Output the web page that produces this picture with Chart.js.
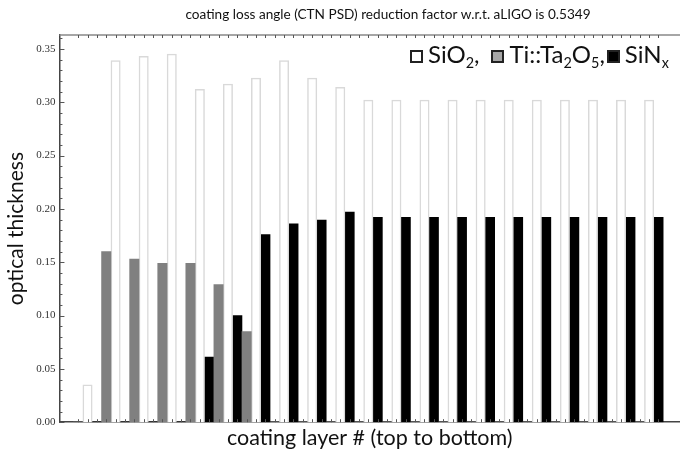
<!DOCTYPE html>
<html>
<head>
<meta charset="utf-8">
<script src="https://cdn.jsdelivr.net/npm/chart.js@4.4.0/dist/chart.umd.min.js"></script>
<style>
  body { margin: 0; background: #fff; }
  #contenedor { position: relative; width: 680px; height: 455px; }
  #leyenda { position: absolute; left: 410px; top: 40px; font: 24px Lato, sans-serif; color: #111; white-space: nowrap; line-height: 28px; }
  #leyenda .caja { display: inline-block; width: 9px; height: 9px; border: 2px solid #222; margin-right: 5px; vertical-align: 0px; }
  #leyenda .sep { margin-left: 12px; }
  #leyenda sub { font-size: 0.6em; vertical-align: -0.35em; line-height: 0; }
</style>
</head>
<body>
<div id="contenedor">
  <canvas id="grafico" width="680" height="455"></canvas>
  <div id="leyenda"><span class="caja" style="background:#fff"></span>SiO<sub>2</sub>,<span class="caja sep" style="background:#a6a6a6"></span>Ti::Ta<sub>2</sub>O<sub>5</sub>,<span class="caja" style="background:#000;margin-left:2px"></span>SiN<sub>x</sub></div>
</div>
<script>
// capas agrupadas de 3 en 3 (de arriba a abajo del recubrimiento)
const grupos = [1, 2, 3, 4, 5, 6, 7, 8, 9, 10, 11, 12, 13, 14, 15, 16, 17, 18, 19, 20, 21];

const tita2o5 = [0, 0.160, 0.153, 0.149, 0.149, 0.129, 0.085, 0, 0, 0,
                 0, 0, 0, 0, 0, 0, 0, 0, 0, 0, 0];
const sio2 = [0.035, 0.339, 0.343, 0.345, 0.312, 0.317, 0.3225, 0.339, 0.3225, 0.314,
              0.302, 0.302, 0.302, 0.302, 0.302, 0.302, 0.302, 0.302, 0.302, 0.302, 0.302];
const sinx = [0, 0, 0, 0, 0.061, 0.100, 0.176, 0.186, 0.1895, 0.197,
              0.192, 0.192, 0.192, 0.192, 0.192, 0.192, 0.192, 0.192, 0.192, 0.192, 0.192];

const titulo = 'coating loss angle (CTN PSD) reduction factor w.r.t. aLIGO is 0.5349';

const puntos = (valores) => grupos.map((g, i) => ({ x: i, y: valores[i] }));

// titulo desplazado a la derecha, como en la figura original
const cabecera = {
    id: 'cabecera',
    afterDraw(chart) {
        const { ctx } = chart;
        ctx.save();
        ctx.fillStyle = '#111';
        ctx.font = '13.6px Lato';
        ctx.textAlign = 'center';
        ctx.textBaseline = 'middle';
        ctx.fillText(titulo, 388, 15);
        ctx.restore();
    }
};

// marcas pequeñas hacia dentro en los ejes y linea superior del marco
const marcas = {
    id: 'marcas',
    afterDatasetsDraw(chart) {
        const { ctx, chartArea: a, scales: { y } } = chart;
        ctx.save();
        ctx.strokeStyle = '#888';
        ctx.lineWidth = 1.5;
        ctx.beginPath();
        ctx.moveTo(a.left, a.top);
        ctx.lineTo(a.right, a.top);
        ctx.stroke();

        ctx.strokeStyle = '#555';
        ctx.lineWidth = 1;
        ctx.beginPath();
        chart.data.datasets.forEach((ds, i) => {
            chart.getDatasetMeta(i).data.forEach(barra => {
                const x = Math.round(barra.x) + 0.5;
                ctx.moveTo(x, a.bottom);
                ctx.lineTo(x, a.bottom - 3);
                ctx.moveTo(x, a.top);
                ctx.lineTo(x, a.top + 3);
            });
        });
        for (let k = 0; k <= 36; k++) {
            const py = Math.round(y.getPixelForValue(k / 100)) + 0.5;
            const largo = k % 5 === 0 ? 5 : 3;
            ctx.moveTo(a.left, py);
            ctx.lineTo(a.left + largo, py);
        }
        ctx.stroke();
        ctx.restore();
    }
};

const ctx = document.getElementById('grafico').getContext('2d');
new Chart(ctx, {
    type: 'bar',
    data: {
        datasets: [
            { label: 'Ti::Ta2O5', data: puntos(tita2o5), backgroundColor: '#808080', borderWidth: 0 },
            { label: 'SiO2', data: puntos(sio2), backgroundColor: '#fff', borderColor: '#d9d9d9', borderWidth: 1.5 },
            { label: 'SiNx', data: puntos(sinx), backgroundColor: '#000', borderWidth: 0 }
        ]
    },
    options: {
        responsive: false,
        animation: false,
        datasets: { bar: { categoryPercentage: 1, barPercentage: 1 } },
        layout: { padding: { left: 0, right: 0, top: 35, bottom: 4 } },
        plugins: {
            legend: { display: false },
            tooltip: { enabled: false },
            title: { display: false }
        },
        scales: {
            x: {
                type: 'linear',
                min: -1,
                max: 21.1,
                offset: false,
                grid: { display: false, drawTicks: false },
                ticks: { display: false },
                border: { display: true, color: '#444', width: 1.5 },
                title: {
                    display: true,
                    text: 'coating layer # (top to bottom)',
                    color: '#111',
                    font: { family: 'Lato', size: 21.5 },
                    padding: { top: 3, bottom: 0 }
                }
            },
            y: {
                min: 0,
                max: 0.363,
                grid: { display: false, drawTicks: false },
                border: { display: true, color: '#444', width: 1.5 },
                ticks: {
                    stepSize: 0.05,
                    includeBounds: false,
                    padding: 4,
                    color: '#333',
                    font: { family: 'Liberation Serif', size: 11 },
                    callback: v => v.toFixed(2)
                },
                title: {
                    display: true,
                    text: 'optical thickness',
                    color: '#111',
                    font: { family: 'Lato', size: 21 },
                    padding: { top: 4, bottom: 3 }
                }
            }
        }
    },
    plugins: [marcas, cabecera]
});
</script>
</body>
</html>
